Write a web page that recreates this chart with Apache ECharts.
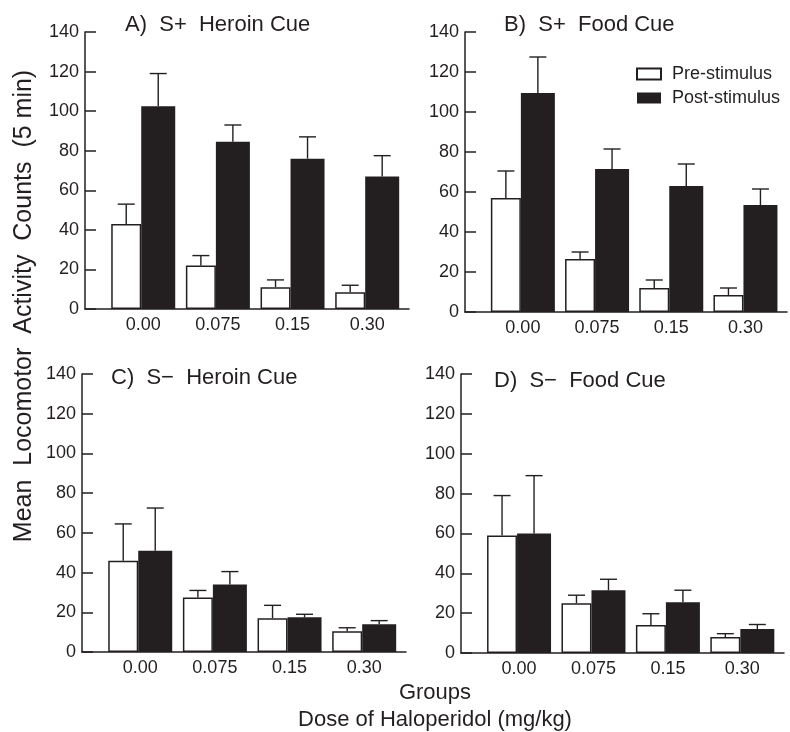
<!DOCTYPE html>
<html>
<head>
<meta charset="utf-8">
<script src="https://cdn.jsdelivr.net/npm/echarts@6/dist/echarts.min.js"></script>
<style>html,body{margin:0;padding:0;background:#fff}#c{width:790px;height:732px}</style>
</head>
<body>
<div id="c"></div>
<script>
const doses = ['0.00', '0.075', '0.15', '0.30'];
const yTicks = [0, 20, 40, 60, 80, 100, 120, 140];

const heroinPlusPre = [43, 22, 11, 8.5];
const heroinPlusPreErr = [10, 5, 3.7, 3.5];
const heroinPlusPost = [102.5, 84.5, 76, 67];
const heroinPlusPostErr = [16.5, 8.5, 11, 10.5];

const foodPlusPre = [57, 26.5, 12, 8.5];
const foodPlusPreErr = [13.5, 3.5, 4, 3.5];
const foodPlusPost = [109.5, 71.5, 63, 53.5];
const foodPlusPostErr = [18, 10, 11, 8];

const heroinMinusPre = [46, 27.5, 17, 10.5];
const heroinMinusPreErr = [18.5, 3.5, 6.5, 1.7];
const heroinMinusPost = [51, 34, 17.5, 14];
const heroinMinusPostErr = [21.5, 6.5, 1.5, 1.8];

const foodMinusPre = [59, 25, 14, 8];
const foodMinusPreErr = [20, 4, 5.7, 1.7];
const foodMinusPost = [60, 31.5, 25.5, 12];
const foodMinusPostErr = [29, 5.5, 6, 2.3];

const panels = [
  { title: 'A)  S+  Heroin Cue', pre: heroinPlusPre, preErr: heroinPlusPreErr, post: heroinPlusPost, postErr: heroinPlusPostErr },
  { title: 'B)  S+  Food Cue', pre: foodPlusPre, preErr: foodPlusPreErr, post: foodPlusPost, postErr: foodPlusPostErr },
  { title: 'C)  S\u2212  Heroin Cue', pre: heroinMinusPre, preErr: heroinMinusPreErr, post: heroinMinusPost, postErr: heroinMinusPostErr },
  { title: 'D)  S\u2212  Food Cue', pre: foodMinusPre, preErr: foodMinusPreErr, post: foodMinusPost, postErr: foodMinusPostErr }
];

// layout (styling only)
const INK = '#231f20';
const FONT = '"Liberation Sans", Arial, Helvetica, sans-serif';
const grids = [
  { left: 85, top: 32, width: 324, height: 277 },
  { left: 465, top: 32, width: 322, height: 280 },
  { left: 82, top: 374, width: 324, height: 278 },
  { left: 461, top: 374, width: 323, height: 279 }
];
const titlePos = [[125, 25], [504, 25], [111, 378], [494, 381]];
const W_PRE = 30, W_POST = 34;
const OFF_PRE = -(W_PRE + W_POST) / 2 + W_PRE / 2;
const OFF_POST = -(W_PRE + W_POST) / 2 + W_PRE + W_POST / 2;

function errRender(offset) {
  return function (params, api) {
    const x = api.value(0), v = api.value(1), e = api.value(2);
    const p0 = api.coord([x, v]);
    const p1 = api.coord([x, v + e]);
    const cx = p0[0] + offset;
    const st = { stroke: INK, lineWidth: 1.4 };
    return {
      type: 'group',
      children: [
        { type: 'line', shape: { x1: cx, y1: p0[1], x2: cx, y2: p1[1] }, style: st },
        { type: 'line', shape: { x1: cx - 8.5, y1: p1[1], x2: cx + 8.5, y2: p1[1] }, style: st }
      ]
    };
  };
}

const option = {
  animation: false,
  backgroundColor: '#fff',
  textStyle: { fontFamily: FONT, color: INK },
  grid: grids.map(g => Object.assign({ containLabel: false }, g)),
  xAxis: grids.map((g, i) => ({
    type: 'value', gridIndex: i, min: -0.78, max: 3.56,
    axisLine: { show: true, onZero: false, lineStyle: { color: INK, width: 1.5 } },
    axisTick: { show: false },
    splitLine: { show: false },
    axisLabel: {
      customValues: [0, 1, 2, 3],
      formatter: v => doses[Math.round(v)],
      fontSize: 18, color: INK, fontFamily: FONT, margin: 7
    }
  })),
  yAxis: grids.map((g, i) => ({
    type: 'value', gridIndex: i, min: yTicks[0], max: yTicks[yTicks.length - 1], interval: 20,
    axisLine: { show: true, onZero: false, lineStyle: { color: INK, width: 1.5 } },
    axisTick: { show: true, inside: true, length: 11, lineStyle: { color: INK, width: 1.5 } },
    splitLine: { show: false },
    axisLabel: { fontSize: 18, color: INK, fontFamily: FONT, margin: 6 }
  })),
  legend: {
    orient: 'vertical', left: 631, top: 60, itemWidth: 24, itemHeight: 11, itemGap: 6,
    icon: 'rect',
    data: ['Pre-stimulus', 'Post-stimulus'],
    textStyle: { fontSize: 18, color: INK, fontFamily: FONT, padding: [0, 0, 0, 6] }
  },
  series: [],
  graphic: []
};

panels.forEach((p, i) => {
  option.series.push({
    name: 'Pre-stimulus', type: 'bar', xAxisIndex: i, yAxisIndex: i,
    barWidth: W_PRE, barGap: '0%',
    itemStyle: { color: '#fff', borderColor: INK, borderWidth: 1.5 },
    data: p.pre.map((v, k) => [k, v])
  });
  option.series.push({
    name: 'Post-stimulus', type: 'bar', xAxisIndex: i, yAxisIndex: i,
    barWidth: W_POST, barGap: '0%',
    itemStyle: { color: INK, borderColor: INK, borderWidth: 0 },
    data: p.post.map((v, k) => [k, v])
  });
  option.series.push({
    type: 'custom', xAxisIndex: i, yAxisIndex: i, renderItem: errRender(OFF_PRE),
    encode: { x: 0, y: 1 }, z: 3,
    data: p.pre.map((v, k) => [k, v, p.preErr[k]])
  });
  option.series.push({
    type: 'custom', xAxisIndex: i, yAxisIndex: i, renderItem: errRender(OFF_POST),
    encode: { x: 0, y: 1 }, z: 3,
    data: p.post.map((v, k) => [k, v, p.postErr[k]])
  });
  option.graphic.push({
    type: 'text', x: titlePos[i][0], y: titlePos[i][1],
    style: { text: p.title, fill: INK, font: '22px ' + FONT, align: 'left', verticalAlign: 'middle' }
  });
});

option.graphic.push(
  { type: 'text', x: 24, y: 306, rotation: Math.PI / 2,
    style: { text: 'Mean  Locomotor  Activity  Counts  (5 min)', fill: INK, font: '25px ' + FONT, align: 'center', verticalAlign: 'middle' } },
  { type: 'text', x: 435, y: 693,
    style: { text: 'Groups', fill: INK, font: '22px ' + FONT, align: 'center', verticalAlign: 'middle' } },
  { type: 'text', x: 435, y: 720,
    style: { text: 'Dose of Haloperidol (mg/kg)', fill: INK, font: '22px ' + FONT, align: 'center', verticalAlign: 'middle' } }
);

const chart = echarts.init(document.getElementById('c'), null, { renderer: 'canvas' });
chart.setOption(option);
</script>
</body>
</html>
